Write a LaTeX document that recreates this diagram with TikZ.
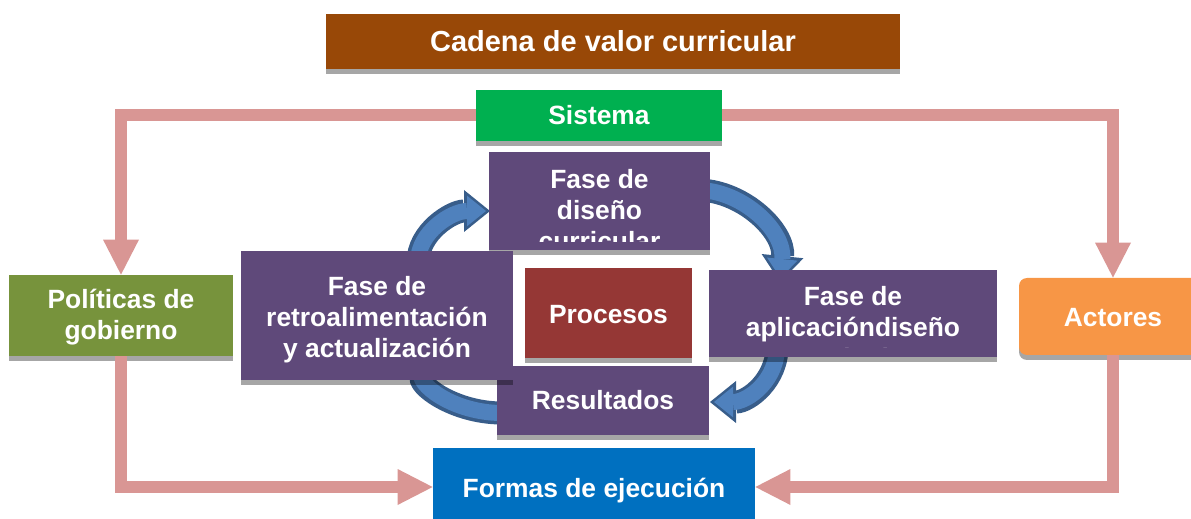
\documentclass[tikz,border=0pt]{standalone}
\usepackage{fontspec}
\setmainfont{Liberation Sans}
\usetikzlibrary{arrows.meta,shadows}

\definecolor{cafe}{HTML}{984807}
\definecolor{verde}{HTML}{00B050}
\definecolor{morado}{HTML}{5F497A}
\definecolor{vino}{HTML}{953735}
\definecolor{olivo}{HTML}{77933C}
\definecolor{naranja}{HTML}{F79646}
\definecolor{azul}{HTML}{0070C0}
\definecolor{rosa}{HTML}{D99694}
\definecolor{flecha}{HTML}{4F81BD}
\definecolor{borde}{HTML}{385D8A}

\tikzset{
	caja/.style={rectangle, fill=#1, text=white, inner sep=0pt, align=center,
		font=\fontsize{13.2}{15.5}\selectfont\bfseries,
		drop shadow={shadow xshift=0pt, shadow yshift=-2.5pt, fill=black, opacity=.35}},
	bajo/.style={execute at begin node={\vrule width 0pt height 13.5pt depth 3pt}},
	texto/.style={text=white, inner sep=0pt, align=center,
		font=\fontsize{13.2}{15.5}\selectfont\bfseries},
	conector/.style={draw=rosa, line width=6pt,
		-{Triangle[length=17.5pt, width=18pt, line width=0pt]}},
	ciclo/.style={draw=flecha, line width=8pt, shorten >=2pt,
		-{Triangle[length=9.5pt, width=15.3pt, line width=0pt]},
		preaction={draw=borde, line width=11.5pt, shorten >=0pt,
			-{Triangle[length=13pt, width=21pt, line width=0pt]}}}
}

\begin{document}
\begin{tikzpicture}
	[x=0.5pt, y=-0.5pt]
	\useasboundingbox (0,0) rectangle (1191,519);
	\coordinate (r1) at (418,262);
	\coordinate (d1) at (490,211);
	\coordinate (d2) at (700,190);
	\coordinate (a1) at (780,282);
	\coordinate (a2) at (777,345);
	\coordinate (s1) at (710,402);
	\coordinate (s2) at (505,413);
	\coordinate (r2) at (421,352);
	\draw[ciclo] (r1) .. controls (418,232) and (452,211) .. (d1);
	\draw[ciclo] (d2) .. controls (745,192) and (785,232) .. (a1);
	\draw[ciclo] (a2) .. controls (778,380) and (748,402) .. (s1);
	\draw[ciclo] (s2) .. controls (458,414) and (421,388) .. (r2);
	
	\node[caja=cafe, minimum width=287pt, minimum height=27.5pt,
		font=\fontsize{14.5}{17}\selectfont\bfseries] (titulo) at (613,41.5) {Cadena de valor curricular};
	\node[caja=verde, minimum width=123pt, minimum height=25.5pt] (sistema) at (599,115.5) {Sistema};
	\node[caja=morado, minimum width=110.5pt, minimum height=49pt] (diseno) at (599.5,201) {};
	\node[caja=morado, minimum width=106pt, minimum height=34.5pt] (resultados) at (603,400.5) {Resultados};
	\node[caja=morado, minimum width=136pt, minimum height=64.5pt] (retro) at (377,315.5) {};
	\node[caja=vino, bajo, minimum width=83.5pt, minimum height=45pt] (procesos) at (608.5,313) {Procesos};
	\node[caja=morado, minimum width=144pt, minimum height=43.5pt] (aplicacion) at (853,313.5) {};
	\node[caja=olivo, minimum width=112pt, minimum height=40.5pt] (politicas) at (121,315.5) {};
	\node[caja=naranja, bajo, rounded corners=4pt, minimum width=94pt, minimum height=38.5pt] (actores) at (1113,316.5) {Actores};
	\node[caja=azul, bajo, minimum width=161pt, minimum height=39pt] (formas) at (594,487) {Formas de ejecución};
	
	\node[texto] (retrotxt) at (377,319.5) {Fase de\\retroalimentación\\y actualización};
	\node[texto] (politicastxt) at (121,317.5) {Políticas de\\gobierno};
	\begin{scope}
		\clip (diseno.north west) rectangle ([yshift=4.5pt]diseno.south east);
		\node[texto] (disenotxt) at (599.5,210) {Fase de\\diseño\\curricular};
	\end{scope}
	\begin{scope}
		\clip (aplicacion.north west) rectangle ([yshift=5pt]aplicacion.south east);
		\node[texto] (aplicaciontxt) at (853,327) {Fase de\\aplicacióndiseño\\curricular};
	\end{scope}
	
	\foreach \from/\to in {sistema.west/politicas.north,sistema.east/actores.north}
	\draw[conector] (\from) -| (\to);
	\foreach \from/\to in {politicas.south/formas.west,actores.south/formas.east}
	\draw[conector] (\from) |- (\to);
\end{tikzpicture}
\end{document}
